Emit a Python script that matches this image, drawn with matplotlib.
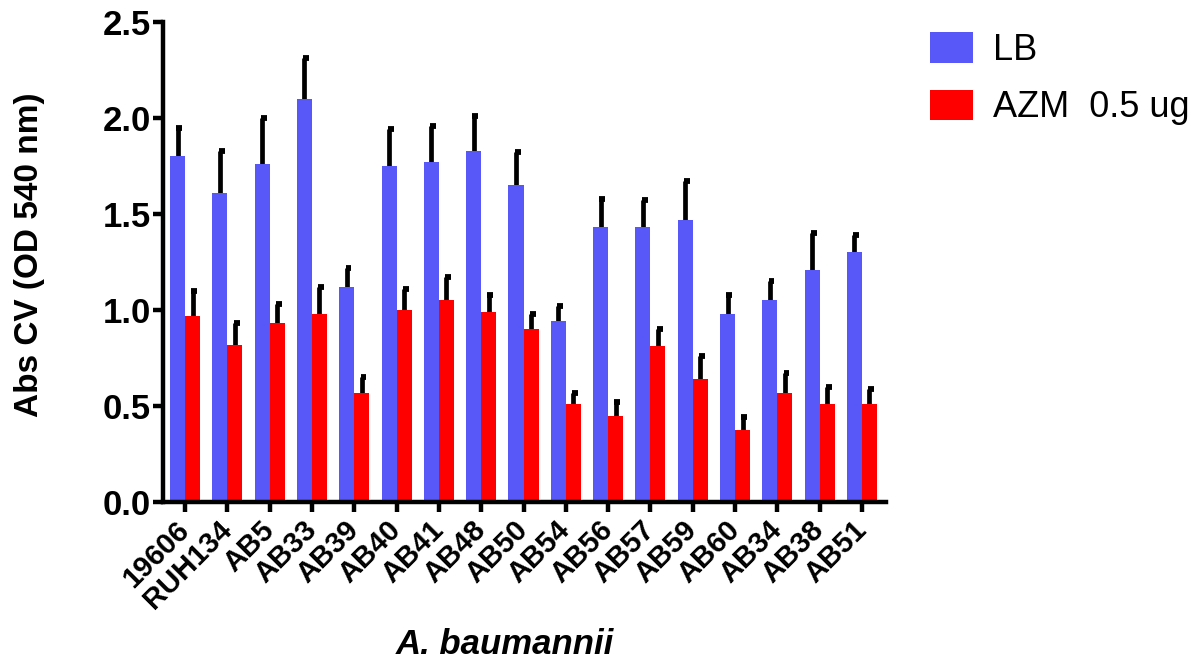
import matplotlib
matplotlib.use("Agg")
import matplotlib.pyplot as plt
import numpy as np

plt.rcParams['font.family'] = ['Liberation Sans', 'DejaVu Sans']

# --- data ---
strains = ["19606", "RUH134", "AB5", "AB33", "AB39", "AB40", "AB41", "AB48", "AB50",
           "AB54", "AB56", "AB57", "AB59", "AB60", "AB34", "AB38", "AB51"]
lb_mean = [1.80, 1.61, 1.76, 2.10, 1.12, 1.75, 1.77, 1.83, 1.65,
           0.94, 1.43, 1.43, 1.47, 0.98, 1.05, 1.21, 1.30]
lb_err = [0.15, 0.22, 0.24, 0.21, 0.10, 0.19, 0.19, 0.18, 0.17,
          0.08, 0.15, 0.14, 0.20, 0.10, 0.10, 0.19, 0.09]
azm_mean = [0.97, 0.82, 0.93, 0.98, 0.57, 1.00, 1.05, 0.99, 0.90,
            0.51, 0.45, 0.81, 0.64, 0.375, 0.57, 0.51, 0.51]
azm_err = [0.13, 0.11, 0.10, 0.14, 0.08, 0.11, 0.12, 0.09, 0.08,
           0.06, 0.07, 0.09, 0.12, 0.065, 0.10, 0.09, 0.08]

blue = "#5858F8"
red = "#FF0000"

fig = plt.figure(figsize=(11.99, 6.64), dpi=100)
ax = fig.add_axes([0.136, 0.244, 0.603, 0.723])

x = np.arange(len(strains))
w = 0.355

ax.bar(x - w / 2, lb_mean, width=w, color=blue, label="LB", zorder=2)
ax.bar(x + w / 2, azm_mean, width=w, color=red, label="AZM  0.5 ug", zorder=2)

# upper-only error bars with a small flag-like cap to the right
for xs, m, e in [(x - w / 2, lb_mean, lb_err), (x + w / 2, azm_mean, azm_err)]:
    tops = np.array(m) + np.array(e)
    ax.vlines(xs, m, tops, color="black", linewidth=3.4, zorder=1)
    ax.hlines(tops, xs - 0.03, xs + 0.11, color="black", linewidth=4.2, zorder=1)

ax.set_xlim(-0.52, 16.57)
ax.set_ylim(0, 2.5)
ax.set_yticks([0.0, 0.5, 1.0, 1.5, 2.0, 2.5])
ax.set_yticklabels(["0.0", "0.5", "1.0", "1.5", "2.0", "2.5"], fontsize=25, fontweight="bold")
ax.set_xticks(x)
ax.set_xticklabels(strains, rotation=45, ha="right", va="center", rotation_mode="anchor",
                   fontsize=21, fontweight="bold")

for s in ["top", "right"]:
    ax.spines[s].set_visible(False)
for s in ["left", "bottom"]:
    ax.spines[s].set_linewidth(3.2)
ax.tick_params(axis="both", width=3.2, length=7, direction="out")
ax.tick_params(axis="x", pad=10)
ax.tick_params(axis="y", pad=2)

fig.text(30 / 1199, 1 - 255 / 664, "Abs CV (OD 540 nm)", rotation=90, ha="center", va="center",
         fontsize=24, fontweight="bold")
fig.text(505 / 1199, 1 - 645 / 664, "A. baumannii", ha="center", va="center",
         fontsize=25, fontweight="bold", style="italic")

ax.legend(loc="upper left", bbox_to_anchor=(930 / 1199, 1 - 32 / 664),
          bbox_transform=fig.transFigure, frameon=False, fontsize=26,
          borderpad=0, borderaxespad=0,
          handlelength=1.19, handleheight=0.94, handletextpad=0.55, labelspacing=0.6)

fig.savefig("out.png", dpi=100)
